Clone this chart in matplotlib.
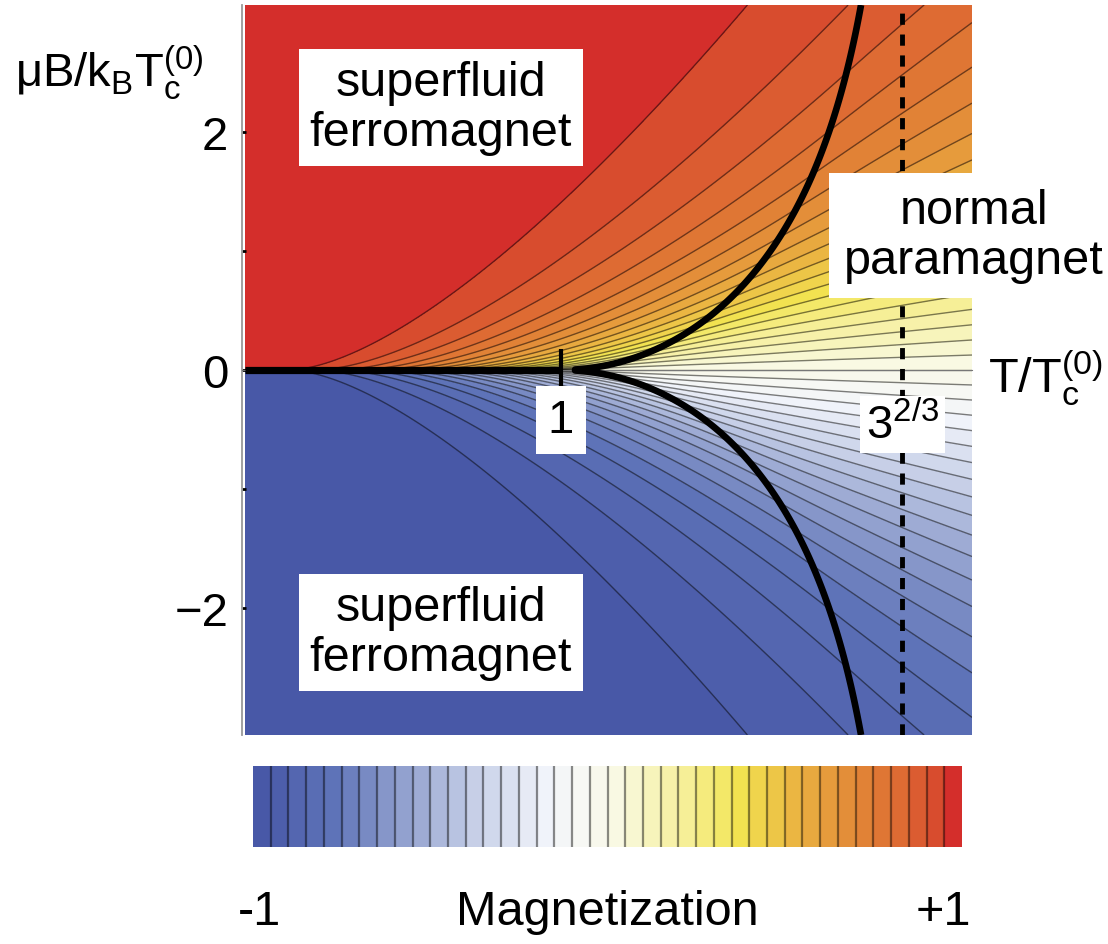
import matplotlib
matplotlib.use("Agg")
import matplotlib.pyplot as plt
from matplotlib.colors import LinearSegmentedColormap
import numpy as np

plt.rcParams['font.family'] = ['Liberation Sans', 'DejaVu Sans']
plt.rcParams['mathtext.fontset'] = 'custom'
plt.rcParams['mathtext.rm'] = 'Liberation Sans'
plt.rcParams['mathtext.it'] = 'Liberation Sans:italic'

# --- model values: ideal spin-1 Bose gas in a field ---
spin_m = [1, 0, -1]            # Zeeman components
tc_zero = 1.0                  # T_c^(0) at B = 0
t_sat = 3 ** (2 / 3)           # fully polarised limit (only one component left)
t_range = [0.002, 2.3]
b_range = [-3.07, 3.07]
n_levels = 40                  # bands between -1 and +1

yticks = [-2, 0, 2]
yticklabels = ['\u22122', '0', '2']
minor_yticks = [-1, 1]

# colormap anchor colours (band colours)
cmap_pos = [0.0, 0.0125, 0.1125, 0.2125, 0.3125, 0.4125, 0.4625, 0.5125,
            0.6125, 0.6875, 0.7625, 0.8625, 0.9125, 0.96, 0.99, 1.0]
cmap_col = ['#4858a7', '#4858a7', '#5f74b8', '#92a1cf', '#c6cfe7', '#f0f3fa',
            '#f7f8f4', '#f9f9e4', '#f6ef96', '#f2e451', '#ebb742', '#e18236',
            '#de6c33', '#d9522f', '#d42c2b', '#d42c2b']

zeta32 = 2.6123753486854883


def g32_table():
    a = np.linspace(0, 40, 40001)
    g = np.zeros_like(a)
    small = a < 0.2
    s = a[small]
    g[small] = (zeta32 - 2 * np.sqrt(np.pi * s) + 1.4603545088 * s
                - 0.2078862250 * s ** 2 / 2 + 0.0254852019 * s ** 3 / 6
                + 0.0085169287 * s ** 4 / 24)
    k = np.arange(1, 301)
    big = a[~small]
    g[~small] = (np.exp(-np.outer(big, k)) / k ** 1.5).sum(axis=1)
    return a, g


A_TAB, G_TAB = g32_table()


def G(a):
    return np.interp(a, A_TAB, G_TAB)


t = np.linspace(t_range[0], t_range[1], 700)
b = np.linspace(b_range[0], b_range[1], 800)
T, B = np.meshgrid(t, b)
c = np.abs(B) / T
R = len(spin_m) * zeta32 * (T / tc_zero) ** -1.5

# condensed if the thermal cloud cannot hold all atoms
F = zeta32 + G(c) + G(2 * c) - R
M_cond = 1 - (G(c) + 2 * G(2 * c)) / R

lo = c.copy()
hi = c + 40
for _ in range(60):
    mid = 0.5 * (lo + hi)
    f = G(mid - c) + G(mid) + G(mid + c) - R
    lo = np.where(f > 0, mid, lo)
    hi = np.where(f > 0, hi, mid)
u = 0.5 * (lo + hi)
M_norm = (G(u - c) - G(u + c)) / R

M = np.sign(B) * np.where(F < 0, M_cond, M_norm)

levels = np.linspace(-1, 1, n_levels + 1)
cmap = LinearSegmentedColormap.from_list('mag', list(zip(cmap_pos, cmap_col)))
band_colors = [cmap((i + 0.5) / n_levels) for i in range(n_levels)]

fig = plt.figure(figsize=(11.08, 9.45), dpi=100)
ax = fig.add_axes([242 / 1108, (945 - 736) / 945, 730 / 1108, 730 / 945])

cf = ax.contourf(T, B, M, levels=levels, colors=band_colors, zorder=1)
cl = ax.contour(T, B, M, levels=levels[1:-1], colors='k', linewidths=1.0,
                alpha=0.5, negative_linestyles='solid', zorder=2)

# phase boundary
ax.contour(T, B, F, levels=[0], colors='k', linewidths=4.8, zorder=4)
ax.hlines(0, 0, tc_zero, colors='k', linewidth=5.2, zorder=4)
ax.vlines(tc_zero, -0.14, 0.18, colors='k', linewidth=3, zorder=4)
ax.axvline(t_sat, color='k', linewidth=3.5, dashes=(2.3, 2.0), zorder=4)

ax.set_xlim(-0.008, t_range[1])
ax.set_ylim(b_range[0], b_range[1])

for side in ['top', 'right']:
    ax.spines[side].set_visible(False)
ax.spines['bottom'].set_position(('data', 0))
ax.spines['bottom'].set_color('#777777')
ax.spines['bottom'].set_linewidth(0.8)
ax.spines['left'].set_color('#999999')
ax.spines['left'].set_linewidth(1.3)
ax.set_xticks([])
ax.set_yticks(yticks)
ax.set_yticklabels(yticklabels, fontsize=34)
ax.set_yticks(minor_yticks, minor=True)
ax.tick_params(axis='y', which='both', direction='in', length=3, width=2,
               color='k', pad=10)

box = dict(boxstyle='square,pad=0.22', facecolor='white', edgecolor='none')
ax.text(0.62, 2.21, 'superfluid\nferromagnet', fontsize=35, ha='center',
        va='center', linespacing=1.15, bbox=box, zorder=6)
ax.text(0.62, -2.21, 'superfluid\nferromagnet', fontsize=35, ha='center',
        va='center', linespacing=1.15, bbox=box, zorder=6)
ax.text(2.305, 1.13, 'normal\nparamagnet', fontsize=35, ha='center',
        va='center', linespacing=1.15, bbox=dict(boxstyle='square,pad=0.3',
        facecolor='white', edgecolor='none'), zorder=6, clip_on=False)
ax.text(tc_zero, -0.42, '1', fontsize=34, ha='center', va='center',
        bbox=dict(boxstyle='square,pad=0.25', facecolor='white', edgecolor='none'),
        zorder=6)
ax.text(t_sat, -0.46, r'$\mathregular{3^{2/3}}$', fontsize=34, ha='center',
        va='center', bbox=dict(boxstyle='square,pad=0.12', facecolor='white',
        edgecolor='none'), zorder=6)

fig.text(15 / 1108, 1 - 73 / 945, r'$\mathregular{\mu B/k_B T_c^{(0)}}$',
         fontsize=34, ha='left', va='center')
fig.text(988 / 1108, 1 - 378 / 945, r'$\mathregular{T/T_c^{(0)}}$',
         fontsize=35, ha='left', va='center')

cax = fig.add_axes([253 / 1108, (945 - 848) / 945, 709 / 1108, 81 / 945])
cb = fig.colorbar(cf, cax=cax, orientation='horizontal')
cb.set_ticks([])
cb.outline.set_visible(False)
cb.add_lines(levels[1:-1], colors=[(0, 0, 0, 0.45)] * (n_levels - 1),
             linewidths=[1.6] * (n_levels - 1))

fig.text(259 / 1108, 1 - 913 / 945, '-1', fontsize=35, ha='center', va='center')
fig.text(607 / 1108, 1 - 913 / 945, 'Magnetization', fontsize=35, ha='center',
         va='center')
fig.text(943 / 1108, 1 - 913 / 945, '+1', fontsize=35, ha='center', va='center')

fig.savefig('out.png', dpi=100)
